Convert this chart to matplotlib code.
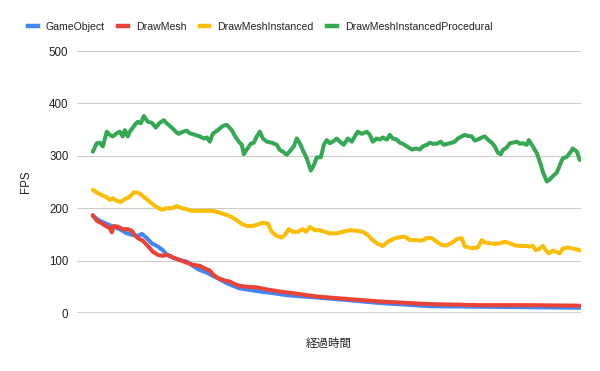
import matplotlib
matplotlib.use('Agg')
import matplotlib.pyplot as plt
from matplotlib.lines import Line2D

# elapsed time (arbitrary units) and FPS
go_t = [1, 8, 15, 21, 28, 35, 41, 46, 50, 55, 60, 66, 71, 75, 81, 88, 95, 101, 108, 115,
        121, 128, 135, 141, 148, 155, 168, 181, 195, 215, 235, 248, 288, 338, 388, 438, 488]
go_fps = [185, 176, 170, 165, 160, 152, 149, 147, 151, 143, 133, 127, 120, 111, 106, 101, 98, 90, 82, 77,
          71, 64, 57, 52, 47, 45, 41, 38, 34, 31, 28, 26, 19, 13, 12, 11, 10]

dm_t = [1, 5, 10, 14, 18, 20, 22, 26, 31, 36, 40, 43, 46, 51, 56, 61, 66, 71, 76, 81, 88, 95,
        101, 108, 113, 118, 121, 126, 133, 138, 143, 148, 155, 165, 175, 188, 201, 215, 228, 241,
        288, 338, 388, 438, 488]
dm_fps = [187, 176, 171, 166, 162, 154, 166, 165, 160, 160, 157, 149, 143, 138, 128, 117, 111, 109, 111, 106, 101, 96,
          92, 90, 85, 81, 74, 67, 62, 60, 55, 52, 50, 49, 45, 41, 38, 34, 31, 29,
          22, 17, 15, 15, 14]

dmi_t = [1, 5, 10, 15, 18, 21, 25, 29, 33, 38, 42, 46, 50, 55, 60, 65, 70, 75, 80, 85, 90, 95,
         100, 105, 110, 115, 120, 125, 130, 135, 140, 145, 150, 155, 160, 165, 170, 176, 180, 185,
         190, 193, 197, 201, 206, 211, 214, 218, 223, 228, 233, 238, 245, 251, 258, 265, 271, 276,
         281, 286, 291, 296, 301, 306, 313, 318, 325, 330, 335, 340, 345, 350, 355, 360, 365, 370,
         373, 377, 381, 386, 390, 394, 398, 403, 408, 413, 418, 423, 428, 433, 438, 441, 444, 447,
         451, 454, 457, 461, 464, 468, 471, 476, 481, 486, 489]
dmi_fps = [235, 230, 225, 221, 216, 219, 214, 212, 217, 222, 230, 230, 225, 217, 209, 202, 197, 200, 200, 204, 200, 198,
           195, 195, 195, 195, 195, 193, 190, 187, 183, 177, 170, 166, 166, 168, 172, 171, 155, 147,
           144, 149, 160, 155, 155, 160, 155, 164, 158, 158, 155, 152, 152, 155, 158, 157, 155, 149,
           139, 132, 128, 136, 141, 144, 146, 139, 139, 138, 143, 143, 136, 130, 129, 134, 141, 143,
           127, 125, 124, 125, 139, 134, 133, 132, 133, 136, 133, 129, 128, 128, 127, 128, 120, 122,
           128, 120, 114, 119, 117, 114, 123, 125, 123, 121, 119]

dmip_t = [1, 5, 8, 11, 15, 18, 21, 25, 28, 31, 33, 36, 38, 43, 46, 49, 52, 56, 60, 64, 68, 72,
          75, 78, 81, 85, 87, 91, 95, 98, 103, 108, 112, 115, 118, 121, 126, 131, 135, 140, 143,
          147, 150, 152, 155, 159, 162, 165, 168, 171, 175, 180, 185, 188, 191, 195, 199, 202, 205,
          208, 211, 215, 219, 222, 225, 229, 232, 235, 238, 241, 245, 248, 252, 256, 260, 263, 266,
          270, 275, 278, 281, 285, 288, 291, 295, 298, 301, 305, 308, 311, 315, 320, 324, 328, 331,
          335, 338, 341, 345, 349, 352, 356, 360, 363, 366, 370, 373, 376, 380, 383, 386, 390, 393,
          396, 400, 403, 406, 409, 411, 415, 418, 421, 425, 428, 431, 435, 437, 441, 445, 448, 451,
          455, 458, 462, 465, 468, 471, 475, 479, 481, 485, 488]
dmip_fps = [308, 324, 325, 318, 346, 340, 337, 343, 346, 337, 349, 337, 346, 359, 365, 362, 376, 365, 363, 354, 363, 368,
            362, 357, 352, 344, 342, 346, 348, 343, 340, 337, 333, 335, 327, 342, 349, 357, 359, 349, 338,
            327, 321, 303, 312, 323, 325, 337, 346, 333, 327, 325, 321, 311, 308, 302, 311, 318, 333,
            324, 311, 295, 272, 282, 297, 297, 321, 330, 324, 327, 333, 327, 321, 333, 327, 337, 346,
            342, 346, 340, 327, 333, 331, 335, 331, 340, 333, 331, 325, 323, 318, 312, 314, 312, 318,
            321, 325, 323, 323, 327, 321, 323, 325, 327, 333, 337, 340, 338, 337, 329, 331, 335, 337,
            331, 325, 318, 306, 303, 311, 316, 324, 325, 327, 323, 324, 321, 330, 318, 305, 289, 270,
            251, 255, 263, 268, 282, 295, 298, 308, 314, 308, 292]

series = [
    ('GameObject', go_t, go_fps, '#4285F4'),
    ('DrawMesh', dm_t, dm_fps, '#EA4335'),
    ('DrawMeshInstanced', dmi_t, dmi_fps, '#FBBC04'),
    ('DrawMeshInstancedProcedural', dmip_t, dmip_fps, '#34A853'),
]

plt.rcParams['font.family'] = ['Liberation Sans', 'DejaVu Sans']

fig = plt.figure(figsize=(6.0, 3.71), dpi=100)
ax = fig.add_axes([0.128, 0.1563, 0.84, 0.7062])

for name, t, fps, col in series:
    ax.plot(t, fps, color=col, linewidth=2.9, solid_capstyle='round',
            solid_joinstyle='round', label=name)

ax.set_xlim(-15, 489)
ax.set_ylim(0, 500)
ax.set_yticks([0, 100, 200, 300, 400, 500])
ax.set_xticks([])
ax.grid(axis='y', color='#cccccc', linewidth=0.8)
ax.set_axisbelow(True)
for s in ax.spines.values():
    s.set_visible(False)
ax.axhline(0, color='#333333', linewidth=1.0, zorder=1)
ax.tick_params(axis='y', length=0, pad=6, labelsize=8.3, labelcolor='#222222')

ax.set_ylabel('FPS', fontsize=8.3, color='#222222', labelpad=12)
ax.set_xlabel('経過時間', fontsize=8.3, color='#222222', labelpad=17.5,
              family=['Noto Sans CJK JP', 'DejaVu Sans'])

handles = [Line2D([], [], color=c, linewidth=3.2) for _, _, _, c in series]
fig.legend(handles, [s[0] for s in series], loc='center left',
           bbox_to_anchor=(0.038, 0.927), ncol=4, frameon=False,
           fontsize=7.6, handlelength=0.9, handletextpad=0.75,
           columnspacing=1.3, borderpad=0, labelcolor='#222222')

plt.savefig('out.png', format='png')
